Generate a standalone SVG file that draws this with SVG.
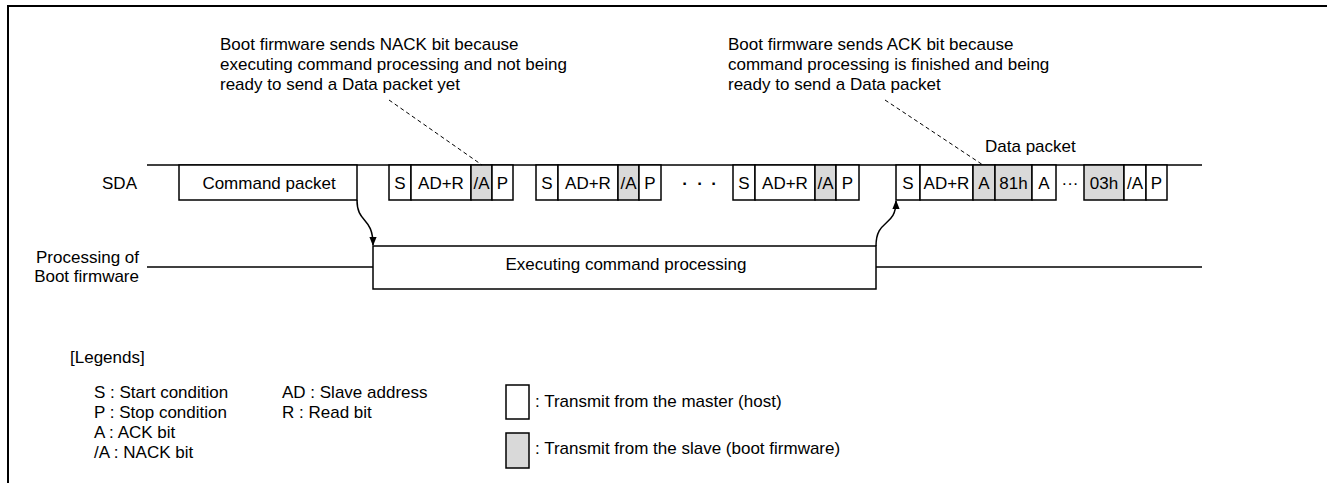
<svg xmlns="http://www.w3.org/2000/svg" width="1327" height="483" viewBox="0 0 1327 483">
<style>
text{font-family:"Liberation Sans",Arial,sans-serif;font-size:17px;fill:#000}
.c{text-anchor:middle}
.r{text-anchor:end}
.b{fill:#fff;stroke:#000;stroke-width:1.5}
.g{fill:#d9d9d9;stroke:#000;stroke-width:1.5}
.ln{fill:none;stroke:#000;stroke-width:1.5}
.ds{fill:none;stroke:#000;stroke-width:1;stroke-dasharray:4,3}
</style>
<defs>
<marker id="ah" viewBox="0 0 10 10" refX="9" refY="5" markerWidth="10" markerHeight="9" markerUnits="userSpaceOnUse" orient="auto">
<path d="M0,1 L10,5 L0,9 z" fill="#000"/>
</marker>
</defs>
<rect width="1327" height="483" fill="#fff"/>
<path d="M8,483 V6 H1327" fill="none" stroke="#000" stroke-width="2"/>

<g id="lines">
<line class="ln" x1="147" y1="165" x2="1202" y2="165"/>
<line class="ln" x1="147" y1="267" x2="373" y2="267"/>
<line class="ln" x1="876" y1="267" x2="1202" y2="267"/>
</g>

<g id="labels">
<text class="r" x="137" y="189">SDA</text>
<text class="r" x="139" y="263">Processing of</text>
<text class="r" x="139" y="282">Boot firmware</text>
</g>

<g id="command-packet">
<rect class="b" x="179" y="165" width="178" height="35"/>
<text class="c" x="269" y="189">Command packet</text>
</g>

<g id="poll1">
<rect class="b" x="389" y="165" width="22" height="35"/><text class="c" x="400" y="189">S</text>
<rect class="b" x="411" y="165" width="60" height="35"/><text class="c" x="441" y="189">AD+R</text>
<rect class="g" x="471" y="165" width="21" height="35"/><text class="c" x="481.5" y="189">/A</text>
<rect class="b" x="492" y="165" width="21" height="35"/><text class="c" x="502.5" y="189">P</text>
</g>

<g id="poll2">
<rect class="b" x="536" y="165" width="22" height="35"/><text class="c" x="547" y="189">S</text>
<rect class="b" x="558" y="165" width="60" height="35"/><text class="c" x="588" y="189">AD+R</text>
<rect class="g" x="618" y="165" width="21" height="35"/><text class="c" x="628.5" y="189">/A</text>
<rect class="b" x="639" y="165" width="22" height="35"/><text class="c" x="650" y="189">P</text>
</g>

<g id="dots">
<text class="c" x="685" y="189" font-weight="bold">·</text>
<text class="c" x="700" y="189" font-weight="bold">·</text>
<text class="c" x="714" y="189" font-weight="bold">·</text>
</g>

<g id="poll3">
<rect class="b" x="733" y="165" width="22" height="35"/><text class="c" x="744" y="189">S</text>
<rect class="b" x="755" y="165" width="60" height="35"/><text class="c" x="785" y="189">AD+R</text>
<rect class="g" x="815" y="165" width="21" height="35"/><text class="c" x="825.5" y="189">/A</text>
<rect class="b" x="836" y="165" width="23" height="35"/><text class="c" x="847.5" y="189">P</text>
</g>

<g id="data-packet">
<text x="985" y="152">Data packet</text>
<rect class="b" x="896" y="165" width="24" height="35"/><text class="c" x="908" y="189">S</text>
<rect class="b" x="920" y="165" width="53" height="35"/><text class="c" x="946.5" y="189">AD+R</text>
<rect class="g" x="973" y="165" width="22" height="35"/><text class="c" x="984" y="189">A</text>
<rect class="g" x="995" y="165" width="37" height="35"/><text class="c" x="1013.5" y="189">81h</text>
<rect class="b" x="1032" y="165" width="24" height="35"/><text class="c" x="1044" y="189">A</text>
<text class="c" x="1070" y="189">···</text>
<rect class="g" x="1084" y="165" width="40" height="35"/><text class="c" x="1104" y="189">03h</text>
<rect class="b" x="1124" y="165" width="22" height="35"/><text class="c" x="1135" y="189">/A</text>
<rect class="b" x="1146" y="165" width="21" height="35"/><text class="c" x="1156.5" y="189">P</text>
</g>

<g id="executing">
<rect class="b" x="373" y="246" width="503" height="43"/>
<text class="c" x="626" y="270">Executing command processing</text>
</g>

<g id="connectors">
<path class="ln" d="M357,200 C357,224 373,216 373,245" marker-end="url(#ah)"/>
<path class="ln" d="M876,246 C876,218 896,228 896,201" marker-end="url(#ah)"/>
<line class="ds" x1="389" y1="100" x2="482" y2="165"/>
<line class="ds" x1="885" y1="100" x2="983" y2="165"/>
</g>

<g id="note-nack">
<text x="220" y="50">Boot firmware sends NACK bit because</text>
<text x="220" y="70">executing command processing and not being</text>
<text x="220" y="90">ready to send a Data packet yet</text>
</g>

<g id="note-ack">
<text x="728" y="50">Boot firmware sends ACK bit because</text>
<text x="728" y="70">command processing is finished and being</text>
<text x="728" y="90">ready to send a Data packet</text>
</g>

<g id="legend">
<text x="70" y="363">[Legends]</text>
<text x="94" y="398">S : Start condition</text>
<text x="94" y="418">P : Stop condition</text>
<text x="94" y="438">A : ACK bit</text>
<text x="94" y="458">/A : NACK bit</text>
<text x="282" y="398">AD : Slave address</text>
<text x="282" y="418">R : Read bit</text>
<rect class="b" x="506" y="385" width="23" height="34"/>
<text x="535" y="407">: Transmit from the master (host)</text>
<rect class="g" x="506" y="433" width="23" height="35"/>
<text x="535" y="454">: Transmit from the slave (boot firmware)</text>
</g>
</svg>
